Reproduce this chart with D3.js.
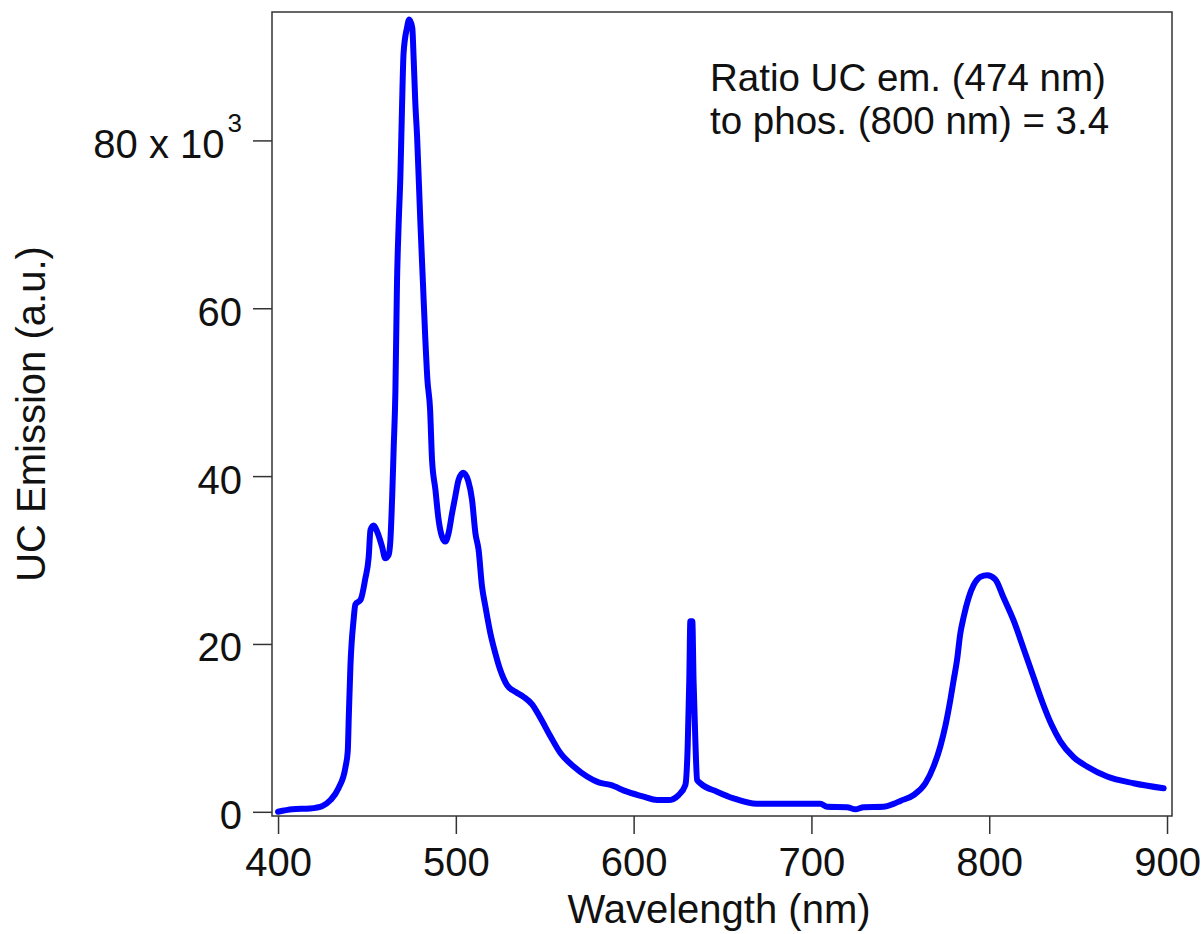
<!DOCTYPE html>
<html>
<head>
<meta charset="utf-8">
<script src="https://cdn.jsdelivr.net/npm/d3@7"></script>
<style>
  html, body { margin: 0; padding: 0; background: #fff; }
  svg { display: block; font-family: "Liberation Sans", Arial, Helvetica, sans-serif; }
</style>
</head>
<body>
<svg id="chart" width="1204" height="934"></svg>
<script>
// Upconversion emission spectrum (wavelength in nm, intensity in a.u.)
const wavelength = [
  400, 408, 418, 425, 429.5, 434, 438, 439.2, 439.8, 440.7, 442.5, 443.5, 446.5, 449, 451, 452,
  453.8, 455.7, 458.5, 460.3, 462.2, 463.2, 464.2, 465, 466, 466.9, 467.8, 468.8, 469.7, 470.6,
  472.5, 473.8, 475.5, 476.3, 477.2, 478.2, 480, 481.5, 482.8, 484, 485.5, 486.6, 488.5, 490.3,
  492.2, 494.1, 495.9, 497.9, 499.7, 501.6, 504.2, 507, 509.1, 511, 512.8, 514.7, 516.6, 519.4,
  522.2, 525, 528.8, 533.5, 538.1, 542.9, 547.5, 553.2, 558.8, 566.3, 573.8, 580.3, 586.9, 596.3,
  605.6, 613.2, 619.7, 625.3, 629.1, 630.4, 631.3, 631.9, 633.0, 633.7, 634.7, 635.7, 637.5,
  646.9, 656.2, 669.4, 684.4, 705, 708.8, 720, 724.7, 729.4, 740.6, 746.2, 750, 757.5, 764.1,
  768.7, 772.5, 775.3, 778.1, 780, 781.9, 783.7, 785.6, 788.4, 791.2, 795, 798.8, 803.4, 808.1,
  813.7, 819.4, 825, 830, 835, 840, 847.5, 855, 866.3, 881.2, 898.1
];
const intensity = [
  0, 300, 400, 700, 1400, 2800, 5400, 7200, 11400, 17300, 22900, 24700, 25300, 27700, 30400, 33600,
  34100, 33400, 31600, 30200, 30600, 32400, 37600, 43100, 50000, 63000, 69800, 75700, 83700, 90400,
  93400, 94400, 93400, 89600, 84500, 80500, 70500, 63000, 56500, 51500, 48000, 42000, 38400, 34800,
  32800, 32200, 33200, 35600, 37600, 39600, 40400, 39400, 37200, 33200, 31200, 26900, 24500, 21300,
  18900, 16900, 15100, 14300, 13700, 12800, 11200, 9000, 7000, 5400, 4200, 3500, 3200, 2400,
  1800, 1400, 1400, 2000, 3200, 7800, 15700, 22700, 22700, 15700, 8600, 3800, 3400,
  2400, 1600, 950, 950, 950, 600, 550, 300, 550, 600, 950, 1300, 2000, 3400,
  5400, 7800, 10200, 13300, 15700, 18100, 21200, 23200, 25500, 27000, 28000, 28200, 27700, 25500,
  22800, 19400, 16000, 13000, 10400, 8400, 6500, 5400, 4200, 3400, 2800
];

const xTicks = [400, 500, 600, 700, 800, 900];
const yTicks = [0, 20000, 40000, 60000, 80000];
const xTitle = "Wavelength (nm)";
const yTitle = "UC Emission (a.u.)";
const noteLines = ["Ratio UC em. (474 nm)", "to phos. (800 nm) = 3.4"];

const svg = d3.select("#chart");
const box = { left: 272, right: 1172, top: 12, bottom: 816 };
const axisColor = "#333";
const textColor = "#111";
const fontSize = 40;

const x = d3.scaleLinear().domain([396.6, 902.8]).range([box.left, box.right]);
const y = d3.scaleLinear().domain([-500, 95300]).range([box.bottom, box.top]);

const points = wavelength.map((w, i) => ({ w, v: intensity[i] }));

// spectrum trace
const line = d3.line()
  .x(d => x(d.w))
  .y(d => y(d.v))
  .curve(d3.curveMonotoneX);

svg.append("path")
  .datum(points)
  .attr("d", line)
  .attr("fill", "none")
  .attr("stroke", "#0000ff")
  .attr("stroke-width", 6)
  .attr("stroke-linejoin", "round")
  .attr("stroke-linecap", "round");

// plot frame
svg.append("rect")
  .attr("x", box.left).attr("y", box.top)
  .attr("width", box.right - box.left).attr("height", box.bottom - box.top)
  .attr("fill", "none").attr("stroke", axisColor).attr("stroke-width", 1.5);

// bottom axis
const xAxis = svg.append("g")
  .attr("transform", `translate(0,${box.bottom})`)
  .call(d3.axisBottom(x).tickValues(xTicks).tickSize(18).tickPadding(14).tickFormat(d3.format("d")));
xAxis.select(".domain").remove();
xAxis.selectAll(".tick line").attr("stroke", axisColor).attr("stroke-width", 1.5);
xAxis.selectAll(".tick text")
  .attr("fill", textColor).attr("font-size", fontSize)
  .attr("font-family", "Liberation Sans, Arial, sans-serif")
  .attr("dy", "0.71em");

// left axis
const yAxis = svg.append("g")
  .attr("transform", `translate(${box.left},0)`)
  .call(d3.axisLeft(y).tickValues(yTicks).tickSize(19).tickPadding(11).tickFormat(() => ""));
yAxis.select(".domain").remove();
yAxis.selectAll(".tick line").attr("stroke", axisColor).attr("stroke-width", 1.5);
yAxis.selectAll(".tick text").remove();

yAxis.selectAll(".tick").each(function (d, i) {
  const t = d3.select(this).append("text")
    .attr("x", -30)
    .attr("y", 17)
    .attr("text-anchor", "end")
    .attr("fill", textColor)
    .attr("font-size", fontSize)
    .attr("font-family", "Liberation Sans, Arial, sans-serif");
  if (i === yTicks.length - 1) {
    t.append("tspan").text(`${d / 1000} x 10`);
    t.append("tspan").text("3").attr("font-size", 26).attr("dx", 3).attr("dy", -26);
  } else {
    t.text(d / 1000);
  }
});

// axis titles
svg.append("text")
  .attr("x", (box.left + box.right) / 2 - 3)
  .attr("y", 923)
  .attr("text-anchor", "middle")
  .attr("font-size", fontSize)
  .attr("fill", textColor)
  .text(xTitle);

svg.append("text")
  .attr("transform", `translate(45,414) rotate(-90)`)
  .attr("text-anchor", "middle")
  .attr("font-size", fontSize)
  .attr("fill", textColor)
  .text(yTitle);

// ratio annotation, two lines
svg.append("g").selectAll("text")
  .data(noteLines)
  .join("text")
  .attr("x", 710)
  .attr("y", (d, i) => 91 + i * 43)
  .attr("font-size", 38.5)
  .attr("fill", textColor)
  .text(d => d);
</script>
</body>
</html>
